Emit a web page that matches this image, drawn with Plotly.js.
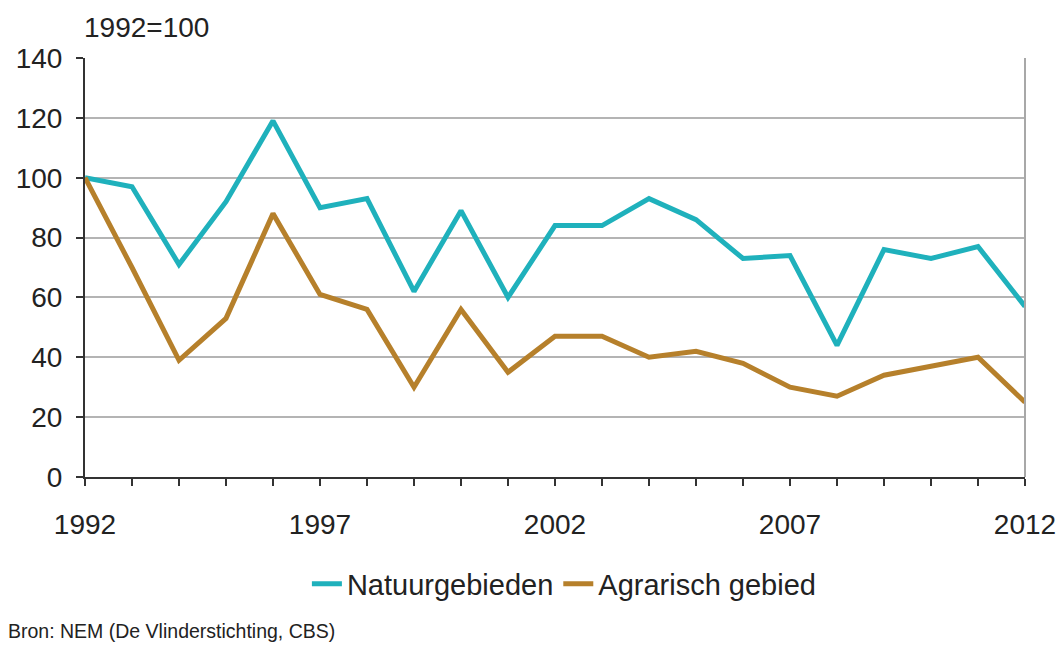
<!DOCTYPE html>
<html>
<head>
<meta charset="utf-8">
<script src="https://cdn.plot.ly/plotly-3.0.1.min.js"></script>
<style>html,body{margin:0;padding:0;background:#fff;}#chart{width:1058px;height:647px;}</style>
</head>
<body>
<div id="chart"></div>
<script>
var years = [1992,1993,1994,1995,1996,1997,1998,1999,2000,2001,2002,2003,2004,2005,2006,2007,2008,2009,2010,2011,2012];
var natuurgebieden = [100,97,71,92,119,90,93,62,89,60,84,84,93,86,73,74,44,76,73,77,57];
var agrarisch = [100,70,39,53,88,61,56,30,56,35,47,47,40,42,38,30,27,34,37,40,25];
var xTickVals = [1992,1997,2002,2007,2012];
var yTickVals = [0,20,40,60,80,100,120,140];

var font = "Liberation Sans, Arial, sans-serif";
var traces = [
  {x: years, y: natuurgebieden, type: 'scatter', mode: 'lines', name: 'Natuurgebieden',
   line: {color: '#1fb1bc', width: 5}},
  {x: years, y: agrarisch, type: 'scatter', mode: 'lines', name: 'Agrarisch gebied',
   line: {color: '#b6802b', width: 5}}
];
var layout = {
  width: 1058, height: 647,
  margin: {l: 85, r: 33, t: 58, b: 170},
  paper_bgcolor: '#fff', plot_bgcolor: '#fff',
  font: {family: font, size: 28, color: '#222'},
  showlegend: true,
  legend: {orientation: 'h', x: 0.51, xanchor: 'center', y: -0.255, yanchor: 'middle',
           font: {family: font, size: 29, color: '#222'}, itemwidth: 30, traceorder: 'normal', tracegroupgap: 0},
  xaxis: {
    range: [1992, 2012], tickmode: 'array', tickvals: xTickVals, ticktext: xTickVals.map(String),
    ticks: 'outside', ticklen: 7, tickwidth: 2, tickcolor: '#333', ticklabelstandoff: 14,
    minor: {tickmode: 'array', tickvals: years, ticks: 'outside', ticklen: 7, tickwidth: 2, tickcolor: '#333', showgrid: false},
    showgrid: false, zeroline: false, showline: true, linecolor: '#333', linewidth: 2,
    tickfont: {family: font, size: 28, color: '#222'}, fixedrange: true
  },
  yaxis: {
    range: [0, 140], tickmode: 'array', tickvals: yTickVals,
    ticks: 'outside', ticklen: 7, tickwidth: 2, tickcolor: '#333', ticklabelstandoff: 8,
    showgrid: true, gridcolor: '#b4b4b4', gridwidth: 2, zeroline: false,
    showline: true, linecolor: '#333', linewidth: 2,
    tickfont: {family: font, size: 28, color: '#222'}, fixedrange: true
  },
  shapes: [
    {type: 'line', xref: 'paper', yref: 'paper', x0: 1, x1: 1, y0: 0, y1: 1, line: {color: '#a8a8a8', width: 2}}
  ],
  annotations: [
    {text: '1992=100', xref: 'paper', yref: 'paper', x: 0, xshift: -3, y: 1.0, xanchor: 'left', yanchor: 'middle', yshift: 31,
     showarrow: false, font: {family: font, size: 28, color: '#222'}},
    {text: 'Bron: NEM (De Vlinderstichting, CBS)', xref: 'paper', yref: 'paper', x: 0, xshift: -79, y: -0.367, xanchor: 'left', yanchor: 'middle',
     showarrow: false, font: {family: font, size: 19.5, color: '#222'}}
  ]
};
Plotly.newPlot('chart', traces, layout, {displayModeBar: false, staticPlot: true});
</script>
</body>
</html>
